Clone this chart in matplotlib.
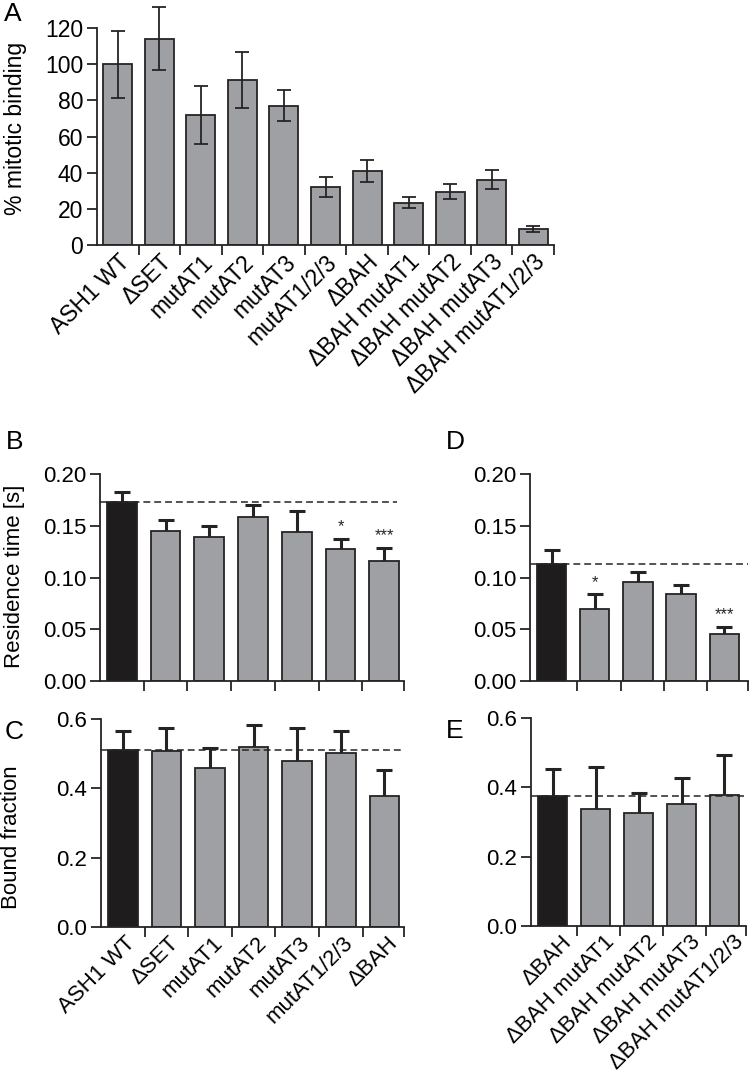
import matplotlib
matplotlib.use('Agg')
import matplotlib.pyplot as plt
import numpy as np

plt.rcParams['font.family'] = ['Liberation Sans', 'DejaVu Sans']

# ---------------- data ----------------
a_labels = ['ASH1 WT', 'ΔSET', 'mutAT1', 'mutAT2', 'mutAT3', 'mutAT1/2/3', 'ΔBAH',
            'ΔBAH mutAT1', 'ΔBAH mutAT2', 'ΔBAH mutAT3', 'ΔBAH mutAT1/2/3']
a_vals = [100, 114, 72, 91, 77, 32, 41, 23.5, 29.5, 36, 8.7]
a_err = [18.5, 17.5, 16, 15.5, 8.5, 5.5, 6, 3.3, 4.3, 5.3, 1.6]

b_labels = ['ASH1 WT', 'ΔSET', 'mutAT1', 'mutAT2', 'mutAT3', 'mutAT1/2/3', 'ΔBAH']
b_res = [0.1726, 0.145, 0.139, 0.158, 0.144, 0.1275, 0.1155]
b_res_err = [0.0101, 0.011, 0.011, 0.012, 0.0206, 0.010, 0.0133]
b_res_sig = ['', '', '', '', '', '*', '***']
c_bound = [0.511, 0.507, 0.460, 0.518, 0.478, 0.501, 0.379]
c_bound_err = [0.053, 0.068, 0.056, 0.066, 0.096, 0.063, 0.075]

d_labels = ['ΔBAH', 'ΔBAH mutAT1', 'ΔBAH mutAT2', 'ΔBAH mutAT3', 'ΔBAH mutAT1/2/3']
d_res = [0.1133, 0.0697, 0.0961, 0.0845, 0.0458]
d_res_err = [0.0137, 0.0143, 0.0089, 0.0081, 0.0068]
d_res_sig = ['', '*', '', '', '***']
e_bound = [0.375, 0.338, 0.325, 0.352, 0.378]
e_bound_err = [0.079, 0.121, 0.058, 0.074, 0.114]

A_YTICKS = [0, 20, 40, 60, 80, 100, 120]
RES_YTICKS = [0.00, 0.05, 0.10, 0.15, 0.20]
BOUND_YTICKS = [0.0, 0.2, 0.4, 0.6]

GRAY = '#9fa0a4'
BLACK = '#1f1c1d'
EDGE = '#262324'
W, H = 752, 1080
FS = 16

fig = plt.figure(figsize=(W / 100, H / 100), dpi=100)


def px_axes(left, top, right, bottom):
    return fig.add_axes([left / W, 1 - bottom / H, (right - left) / W, (bottom - top) / H])


def base_style(ax):
    for s in ['top', 'right']:
        ax.spines[s].set_visible(False)
    for s in ['left', 'bottom']:
        ax.spines[s].set_linewidth(1.3)
        ax.spines[s].set_color(EDGE)
    ax.tick_params(which='major', direction='out', length=7, width=1.3, color=EDGE,
                   labelsize=FS, pad=3)
    ax.tick_params(axis='x', which='minor', length=0, labelsize=FS, pad=4)


def set_xlabels(ax, pos, labels, dx=0.0):
    ax.set_xticks(np.asarray(pos) + dx, labels, minor=True)
    for lab in ax.get_xticklabels(minor=True):
        lab.set_rotation(45)
        lab.set_ha('right')
        lab.set_va('top')
        lab.set_rotation_mode('anchor')


# ---------------- Panel A ----------------
axA = px_axes(97, 28, 554, 245)
base_style(axA)
axA.tick_params(axis='both', which='both', labelsize=16.5)
xa = np.arange(len(a_vals))
axA.bar(xa, a_vals, width=0.7, color=GRAY, edgecolor=EDGE, linewidth=1.3, zorder=2)
axA.errorbar(xa, a_vals, yerr=a_err, fmt='none', ecolor=EDGE, elinewidth=1.3,
             capsize=5, capthick=1.3, zorder=3, clip_on=False)
axA.set_xlim(-0.5, len(a_vals) - 0.5)
axA.set_ylim(0, 120)
axA.set_yticks(A_YTICKS)
axA.set_xticks(np.arange(len(a_vals)) + 0.5)
axA.set_xticklabels([])
set_xlabels(axA, xa, a_labels)
fig.text(16 / W, 1 - 128 / H, '% mitotic binding', rotation=90, ha='center', va='center',
         fontsize=16.5)
fig.text(4 / W, 1 - 2 / H, 'A', ha='left', va='top', fontsize=19)


def bar_panel(ax, vals, errs, xlim_right, tick_off, ylim, yticks, fmt,
              ref, ref_right, sig=None):
    base_style(ax)
    n = len(vals)
    x = np.arange(n)
    colors = [BLACK] + [GRAY] * (n - 1)
    vals = np.asarray(vals)
    errs = np.asarray(errs)
    ax.errorbar(x, vals, yerr=[np.zeros(n), errs], fmt='none', ecolor=EDGE,
                elinewidth=2.2, capsize=0, zorder=1, clip_on=False)
    ax.plot(x, vals + errs, linestyle='none', marker='_', markersize=11, mew=2.2,
            color=EDGE, zorder=1, clip_on=False)
    ax.bar(x, vals, width=0.68, color=colors, edgecolor=EDGE, linewidth=1.3, zorder=2)
    ax.hlines(ref, -0.5, ref_right, colors=EDGE, linestyles=(0, (4.5, 2.6)),
              linewidth=1.1, zorder=3)
    ax.set_xlim(-0.5, xlim_right)
    ax.set_ylim(*ylim)
    ax.set_yticks(yticks)
    ax.set_yticklabels([fmt % t for t in yticks])
    ax.set_xticks(list(np.arange(n - 1) + 0.5 + tick_off) + [xlim_right])
    ax.set_xticklabels([])
    if sig is not None:
        for xi, v, e, s in zip(x, vals, errs, sig):
            if s:
                ax.annotate(s, (xi, v + e), xytext=(0, 3), textcoords='offset points',
                            ha='center', va='bottom', fontsize=12, color=EDGE)
    return x


# ---------------- Panel B ----------------
axB = px_axes(100, 474, 404, 681)
bar_panel(axB, b_res, b_res_err, 6.45, 0.0, (0, 0.20), RES_YTICKS, '%.2f',
          b_res[0], 6.3, b_res_sig)
fig.text(15 / W, 1 - 576 / H, 'Residence time [s]', rotation=90, ha='center',
         va='center', fontsize=FS)
fig.text(6 / W, 1 - 430 / H, 'B', ha='left', va='top', fontsize=19)

# ---------------- Panel C ----------------
axC = px_axes(101, 719, 404, 927)
xc = bar_panel(axC, c_bound, c_bound_err, 6.45, 0.0, (0, 0.6), BOUND_YTICKS, '%.1f',
               c_bound[0], 6.4)
set_xlabels(axC, xc, b_labels, dx=0.05)
fig.text(12 / W, 1 - 837 / H, 'Bound fraction', rotation=90, ha='center',
         va='center', fontsize=FS)
fig.text(5 / W, 1 - 720 / H, 'C', ha='left', va='top', fontsize=19)

# ---------------- Panel D ----------------
axD = px_axes(530, 474, 748, 681)
bar_panel(axD, d_res, d_res_err, 4.55, 0.1, (0, 0.20), RES_YTICKS, '%.2f',
          d_res[0], 4.65, d_res_sig)
fig.text(446 / W, 1 - 430 / H, 'D', ha='left', va='top', fontsize=19)

# ---------------- Panel E ----------------
axE = px_axes(531, 718, 746, 926)
xe = bar_panel(axE, e_bound, e_bound_err, 4.5, 0.07, (0, 0.6), BOUND_YTICKS, '%.1f',
               e_bound[0], 4.65)
set_xlabels(axE, xe, d_labels, dx=0.2)
fig.text(446 / W, 1 - 719 / H, 'E', ha='left', va='top', fontsize=19)

fig.savefig('out.png', dpi=100)
